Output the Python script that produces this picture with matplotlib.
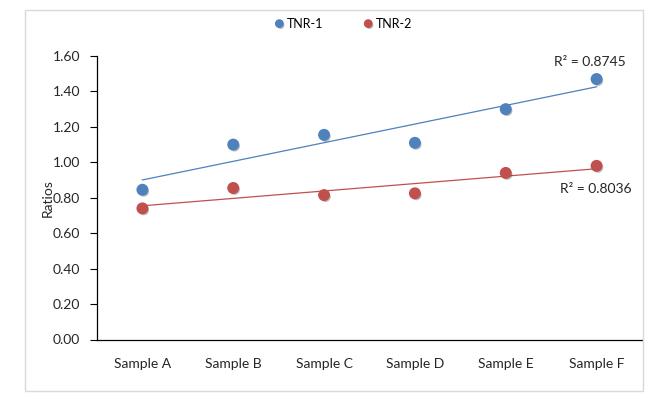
import numpy as np
import matplotlib
matplotlib.use("Agg")
import matplotlib.pyplot as plt
import matplotlib.patheffects as pe
from matplotlib.patches import Rectangle

categories = ["Sample A", "Sample B", "Sample C", "Sample D", "Sample E", "Sample F"]
tnr1 = [0.845, 1.10, 1.155, 1.11, 1.30, 1.47]
tnr2 = [0.74, 0.855, 0.815, 0.825, 0.94, 0.98]
r2_labels = ["R² = 0.8745", "R² = 0.8036"]
yticks = [0.0, 0.2, 0.4, 0.6, 0.8, 1.0, 1.2, 1.4, 1.6]

blue = "#4F81BD"
red = "#C0504D"
txt = "#262626"
plt.rcParams['font.family'] = ['Lato', 'DejaVu Sans']

fig = plt.figure(figsize=(6.59, 4.12), dpi=100)
fig.patches.append(Rectangle((25/659, 1-391/412), (643-25)/659, (391-10)/412,
                             transform=fig.transFigure, fill=False,
                             edgecolor="#d9d9d9", linewidth=1.0))
ax = fig.add_axes([97/659, 1-339.5/412, 545/659, (339.5-56)/412])

x = np.arange(len(categories))
shadow = [pe.SimplePatchShadow(offset=(1.0, -1.2), shadow_rgbFace="#000000", alpha=0.25), pe.Normal()]
for vals, col, lab in [(tnr1, blue, "TNR-1"), (tnr2, red, "TNR-2")]:
    ax.plot(x, vals, linestyle="none", marker="o", markersize=7.6, color=col,
            markeredgecolor=col, label=lab, zorder=3, path_effects=shadow)
    m, b = np.polyfit(x, vals, 1)
    ax.plot([x[0], x[-1]], [b, b + m * x[-1]], color=col, linewidth=0.9, zorder=2)

ax.text(x[-1] - 0.07, 1.567, r2_labels[0], ha="center", va="center", fontsize=10, color=txt)
ax.text(x[-1] - 0.01, 0.85, r2_labels[1], ha="center", va="center", fontsize=10, color=txt)

ax.set_xlim(-0.5, len(categories) - 0.5)
ax.set_ylim(0, 1.6)
ax.set_yticks(yticks)
ax.set_yticklabels([f"{v:.2f}" for v in yticks], fontsize=10, color=txt)
ax.set_xticks(x)
ax.set_xticklabels(categories, fontsize=10, color=txt)
ax.tick_params(axis="x", length=0, pad=13)
ax.tick_params(axis="y", length=5, width=0.8, pad=7, direction="out")
ax.set_xticks(x, minor=True)
ax.tick_params(axis="x", which="minor", length=4, width=0.8, direction="out")
ax.set_ylabel("Ratios", fontsize=10, color=txt, labelpad=-1)
for s in ["top", "right"]:
    ax.spines[s].set_visible(False)
for s in ["left", "bottom"]:
    ax.spines[s].set_linewidth(0.9)
    ax.spines[s].set_color("#000000")

leg = fig.legend(loc="center", bbox_to_anchor=(342/659, 1-24/412), ncol=2, frameon=False,
                 fontsize=9, handletextpad=0.0, columnspacing=3.0, handlelength=1.2,
                 markerscale=0.7)

fig.savefig("out.png", dpi=100)
